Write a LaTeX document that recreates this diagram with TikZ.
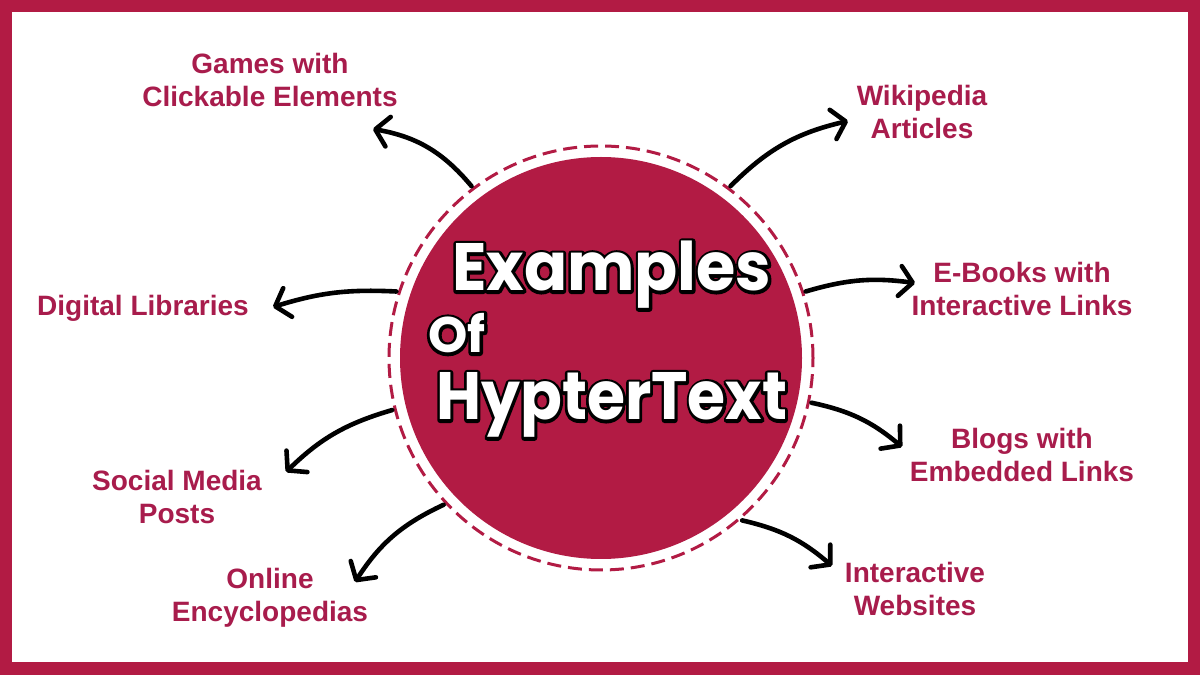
\documentclass[tikz,border=0pt]{standalone}
\usepackage{fontspec}
\setmainfont{Liberation Sans}
\newfontfamily\titlefont{Poppins}
\usetikzlibrary{arrows.meta}
\definecolor{crim}{HTML}{B21B44}
\definecolor{txtc}{HTML}{A81C4C}
\newcommand{\strk}[1]{\special{pdf:literal direct 1 Tr 6 w 1 j 0 0 0 RG}#1\special{pdf:literal direct 0 Tr}}
\newcommand{\outl}[1]{\rlap{\strk{#1}}#1}
\begin{document}
\begin{tikzpicture}[x=1pt,y=1pt,
  lbl/.style={font=\bfseries\fontsize{28}{33}\selectfont, text=txtc, align=center, inner sep=0pt},
  conn/.style={line width=4.6pt, line cap=round, -{Straight Barb[length=13pt,width=30pt,round]}},
  ttl/.style={inner sep=0pt, anchor=base west, text=white}]
\useasboundingbox (0,0) rectangle (1200,675);
\fill[crim] (0,0) rectangle (1200,675);
\fill[white] (12,13) rectangle (1188,663);
\fill[crim] (601,317) circle (201);
\draw[crim, line width=3pt, dash pattern=on 14pt off 7pt] (601,317) circle (212);
\node[circle, minimum size=430pt, inner sep=0pt] (hub) at (601,317) {};
% title
\node[ttl, font=\titlefont\bfseries\fontsize{67}{67}\selectfont] (t1) at (452,384) {\scalebox{0.95}[1]{\outl{Examples}}};
\node[ttl, font=\titlefont\bfseries\fontsize{50}{50}\selectfont] (t2) at (428,322) {\outl{Of}};
\node[ttl, font=\titlefont\bfseries\fontsize{67}{67}\selectfont] (t3) at (436,255) {\scalebox{0.92}[1]{\outl{HypterText}}};
% labels
\node[lbl] (games) at (270,595) {Games with\\Clickable Elements};
\node[lbl] (wiki) at (922,563) {Wikipedia\\Articles};
\node[lbl] (ebooks) at (1022,386) {E-Books with\\Interactive Links};
\node[lbl] (blogs) at (1022,220) {Blogs with\\Embedded Links};
\node[lbl] (web) at (915,86) {Interactive\\Websites};
\node[lbl] (ency) at (270,77) {Online\\Encyclopedias};
\node[lbl] (social) at (177,178) {Social Media\\Posts};
\node[lbl] (dig) at (143,367) {Digital Libraries};
% arrow ends
\coordinate (e1) at (373,546);
\coordinate (e2) at (848,554);
\coordinate (e3) at (915,392);
\coordinate (e4) at (902,228);
\coordinate (e5) at (832,109);
\coordinate (e6) at (355,93);
\coordinate (e7) at (286,203);
\coordinate (e8) at (273,368);
\draw[conn] (hub.127) to[bend right=20] (e1);
\draw[conn] (hub.53.4) to[bend left=16] (e2);
\draw[conn] (hub.18) to[bend left=12] (e3);
\draw[conn] (hub.-12.2) to[bend left=14] (e4);
\draw[conn] (hub.-49.9) to[bend left=14] (e5);
\draw[conn] (hub.223.5) to[bend right=16] (e6);
\draw[conn] (hub.194.3) to[bend right=14] (e7);
\draw[conn] (hub.162.3) to[bend right=10] (e8);
\end{tikzpicture}
\end{document}
